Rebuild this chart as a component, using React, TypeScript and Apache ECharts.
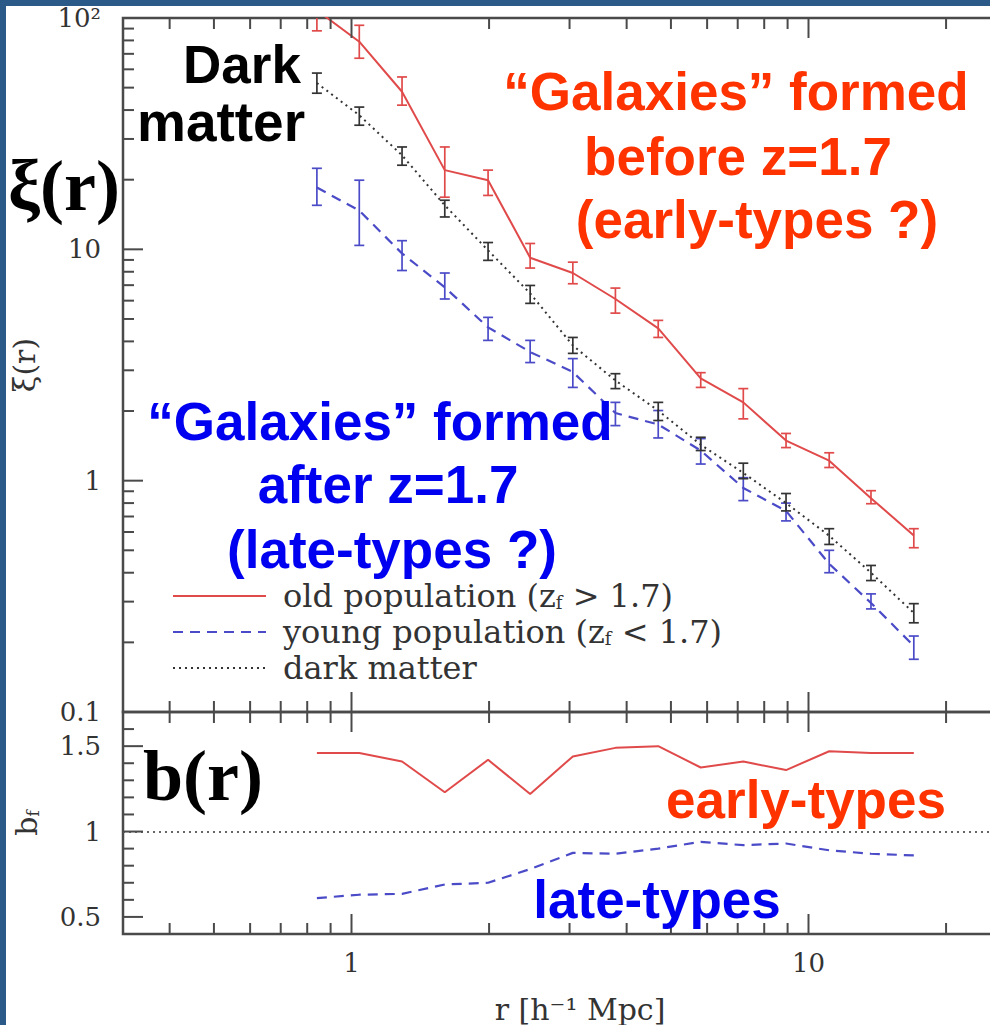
import React, { useEffect, useRef } from "react";
import * as echarts from "echarts";

// Pair separation bins r [h^-1 Mpc]
const R = [0.84, 1.04, 1.29, 1.6, 1.99, 2.46, 3.05, 3.78, 4.69, 5.81, 7.2, 8.93, 11.1, 13.7, 17.0];

// Correlation function xi(r): old population (z_f > 1.7)
const XI_OLD = [108, 79, 48, 22, 19.9, 9.2, 7.9, 6.1, 4.55, 2.77, 2.18, 1.49, 1.22, 0.84, 0.58];
const XI_OLD_LO = [88, 67, 42, 16.8, 17.1, 8.3, 7.1, 5.3, 4.16, 2.53, 1.85, 1.39, 1.14, 0.795, 0.513];
const XI_OLD_HI = [130, 93, 55.6, 27.7, 22, 10.6, 8.8, 6.8, 4.93, 2.93, 2.5, 1.6, 1.32, 0.905, 0.62];

// Young population (z_f < 1.7)
const XI_YOUNG = [18.5, 14.7, 9.6, 6.85, 4.6, 3.6, 2.95, 1.96, 1.75, 1.35, 0.93, 0.74, 0.437, 0.296, 0.193];
const XI_YOUNG_LO = [15.5, 10.4, 8.1, 6.1, 4.04, 3.24, 2.53, 1.73, 1.53, 1.18, 0.82, 0.67, 0.4, 0.279, 0.169];
const XI_YOUNG_HI = [22.4, 19.9, 10.9, 7.9, 5.08, 4.04, 3.37, 2.18, 2.01, 1.52, 1.03, 0.8, 0.5, 0.324, 0.213];

// Dark matter
const XI_DM = [52.3, 38, 25.5, 15.5, 9.9, 6.45, 3.84, 2.71, 2.01, 1.43, 1.08, 0.8, 0.578, 0.4, 0.268];
const XI_DM_LO = [47.3, 34.4, 23.1, 13.8, 8.96, 5.84, 3.55, 2.5, 1.82, 1.35, 1.02, 0.74, 0.53, 0.37, 0.243];
const XI_DM_HI = [57.8, 41.2, 27.7, 16.3, 10.7, 6.98, 4.16, 2.9, 2.18, 1.54, 1.19, 0.88, 0.62, 0.43, 0.294];

// Bias b_f(r)
const B_OLD = [1.46, 1.46, 1.41, 1.23, 1.42, 1.22, 1.44, 1.49, 1.5, 1.375, 1.41, 1.36, 1.47, 1.46, 1.46];
const B_YOUNG = [0.61, 0.63, 0.635, 0.69, 0.7, 0.78, 0.875, 0.87, 0.9, 0.94, 0.92, 0.93, 0.89, 0.87, 0.86];

// Axis ticks
const X_MIN = 0.316227766;
const X_MAX = 31.6227766;
const X_TICKS_MAJOR = [1, 10];
const X_TICKS_MINOR = [0.4, 0.5, 0.6, 0.7, 0.8, 0.9, 2, 3, 4, 5, 6, 7, 8, 9, 20, 30];
const XI_TICKS_MAJOR = [0.1, 1, 10, 100];
const XI_TICKS_MINOR = [0.2, 0.3, 0.4, 0.5, 0.6, 0.7, 0.8, 0.9, 2, 3, 4, 5, 6, 7, 8, 9, 20, 30, 40, 50, 60, 70, 80, 90];
const B_TICKS_MAJOR = [0.5, 1, 1.5];
const B_TICKS_MINOR = [0.6, 0.7, 0.8, 0.9, 1.1, 1.2, 1.3, 1.4, 1.6];

const NAME_OLD = "old population (z_f > 1.7)";
const NAME_YOUNG = "young population (z_f < 1.7)";
const NAME_DM = "dark matter";

const SERIF = "DejaVu Serif";
const SANS = "Liberation Sans";
const FRAME = "#4a4a4a";
const LABEL = "#333";
const RED = "#e04a4a";
const BLUE = "#4b4bc8";
const DARK = "#333";
const ANNOT_RED = "#ff3300";
const ANNOT_BLUE = "#0000f0";

// kind: 0 x-minor, 1 x-major, 2 y-minor, 3 y-major
function tickData(yMinor: number[], yMajor: number[]) {
  return [
    ...X_TICKS_MINOR.map((v) => [v, 1, 0]),
    ...X_TICKS_MAJOR.map((v) => [v, 1, 1]),
    ...yMinor.map((v) => [1, v, 2]),
    ...yMajor.map((v) => [1, v, 3]),
  ];
}

function renderTick(params: any, api: any) {
  const cs = params.coordSys;
  const kind = api.value(2);
  const p = api.coord([api.value(0), api.value(1)]);
  const len = kind === 1 || kind === 3 ? 20 : 11;
  const style = { stroke: FRAME, lineWidth: 2 };
  if (kind < 2) {
    const bottom = cs.y + cs.height;
    return {
      type: "group",
      children: [
        { type: "line", shape: { x1: p[0], y1: bottom, x2: p[0], y2: bottom - len }, style },
        { type: "line", shape: { x1: p[0], y1: cs.y, x2: p[0], y2: cs.y + len }, style },
      ],
    };
  }
  return {
    type: "line",
    shape: { x1: cs.x, y1: p[1], x2: cs.x + len, y2: p[1] },
    style,
  };
}

function errorBars(lo: number[], hi: number[], color: string) {
  return {
    type: "custom",
    xAxisIndex: 0,
    yAxisIndex: 0,
    clip: true,
    silent: true,
    z: 3,
    encode: { x: 0, y: [1, 2] },
    data: R.map((r, i) => [r, lo[i], hi[i]]),
    renderItem: (params: any, api: any) => {
      const x = api.value(0);
      const a = api.coord([x, api.value(1)]);
      const b = api.coord([x, api.value(2)]);
      const cap = 5;
      const style = { stroke: color, lineWidth: 1.7 };
      return {
        type: "group",
        children: [
          { type: "line", shape: { x1: a[0], y1: a[1], x2: b[0], y2: b[1] }, style },
          { type: "line", shape: { x1: a[0] - cap, y1: a[1], x2: a[0] + cap, y2: a[1] }, style },
          { type: "line", shape: { x1: b[0] - cap, y1: b[1], x2: b[0] + cap, y2: b[1] }, style },
        ],
      };
    },
  };
}

function legendLabel(name: string) {
  const parts = name.split("_f");
  if (parts.length === 1) return `{g| }{t|${name}}`;
  return `{g| }{t|${parts[0]}}{s|f}{t|${parts[1]}}`;
}

function annot(text: string, x: number, y: number, color: string, align = "center", font = `bold 53px "${SANS}"`) {
  return {
    type: "text",
    x,
    y,
    z: 50,
    silent: true,
    style: {
      text,
      fill: color,
      font,
      textAlign: align,
      textVerticalAlign: "middle",
      verticalAlign: "middle",
    },
  };
}

const labelFont = { fontFamily: SERIF, fontSize: 26, color: LABEL };

const option: any = {
  animation: false,
  backgroundColor: "#ffffff",
  grid: [
    { left: 123, top: 18, width: 914, height: 694, show: true, borderColor: FRAME, borderWidth: 2.5, backgroundColor: "transparent" },
    { left: 123, top: 712, width: 914, height: 226, show: true, borderColor: FRAME, borderWidth: 2.5, backgroundColor: "transparent" },
  ],
  xAxis: [
    {
      type: "log",
      gridIndex: 0,
      min: X_MIN,
      max: X_MAX,
      axisLine: { show: false },
      axisTick: { show: false },
      axisLabel: { show: false },
      splitLine: { show: false },
    },
    {
      type: "log",
      gridIndex: 1,
      min: X_MIN,
      max: X_MAX,
      axisLine: { show: false },
      axisTick: { show: false },
      splitLine: { show: false },
      axisLabel: {
        ...labelFont,
        margin: 16,
        showMinLabel: false,
        showMaxLabel: false,
        formatter: (v: number) => (Math.abs(v - 1) < 1e-6 ? "1" : Math.abs(v - 10) < 1e-6 ? "10" : ""),
      },
      name: "r [h⁻¹ Mpc]",
      nameLocation: "middle",
      nameGap: 60,
      nameTextStyle: { fontFamily: SERIF, fontSize: 30, color: LABEL },
    },
  ],
  yAxis: [
    {
      type: "log",
      gridIndex: 0,
      min: 0.1,
      max: 100,
      axisLine: { show: false },
      axisTick: { show: false },
      splitLine: { show: false },
      axisLabel: {
        ...labelFont,
        margin: 22,
        formatter: (v: number) => (v > 50 ? "10²" : v > 5 ? "10" : v > 0.5 ? "1" : "0.1"),
      },
      name: "ξ(r)",
      nameLocation: "middle",
      nameRotate: 90,
      nameGap: 84,
      nameTextStyle: { fontFamily: SERIF, fontSize: 30, color: LABEL },
    },
    {
      type: "value",
      gridIndex: 1,
      min: 0.4,
      max: 1.7,
      interval: 0.1,
      axisLine: { show: false },
      axisTick: { show: false },
      splitLine: { show: false },
      axisLabel: {
        ...labelFont,
        margin: 22,
        formatter: (v: number) => {
          const k = Math.round(v * 10);
          return k === 5 ? "0.5" : k === 10 ? "1" : k === 15 ? "1.5" : "";
        },
      },
      name: "{b|b}{s|f}",
      nameLocation: "middle",
      nameRotate: 90,
      nameGap: 82,
      nameTextStyle: {
        rich: {
          b: { fontFamily: SERIF, fontSize: 30, color: LABEL },
          s: { fontFamily: SERIF, fontSize: 17, color: LABEL, verticalAlign: "bottom" },
        },
      },
    },
  ],
  legend: {
    orient: "vertical",
    left: 167,
    top: 575,
    itemWidth: 93,
    itemHeight: 14,
    itemGap: 4,
    selectedMode: false,
    itemStyle: { opacity: 0 },
    data: [NAME_OLD, NAME_YOUNG, NAME_DM],
    formatter: legendLabel,
    textStyle: {
      lineHeight: 30,
      rich: {
        g: { width: 12 },
        t: { fontFamily: SERIF, fontSize: 32, color: LABEL, lineHeight: 30 },
        s: { fontFamily: SERIF, fontSize: 18, color: LABEL, verticalAlign: "bottom", lineHeight: 30 },
      },
    },
  },
  series: [
    // tick marks on both panels
    {
      type: "custom",
      xAxisIndex: 0,
      yAxisIndex: 0,
      silent: true,
      z: 10,
      data: tickData(XI_TICKS_MINOR, XI_TICKS_MAJOR),
      renderItem: renderTick,
    },
    {
      type: "custom",
      xAxisIndex: 1,
      yAxisIndex: 1,
      silent: true,
      z: 10,
      data: tickData(B_TICKS_MINOR, B_TICKS_MAJOR),
      renderItem: renderTick,
    },
    // xi(r)
    {
      name: NAME_OLD,
      type: "line",
      xAxisIndex: 0,
      yAxisIndex: 0,
      symbol: "none",
      lineStyle: { color: RED, width: 2 },
      itemStyle: { color: RED },
      data: R.map((r, i) => [r, XI_OLD[i]]),
    },
    {
      name: NAME_YOUNG,
      type: "line",
      xAxisIndex: 0,
      yAxisIndex: 0,
      symbol: "none",
      lineStyle: { color: BLUE, width: 2.2, type: [10, 7] },
      itemStyle: { color: BLUE },
      data: R.map((r, i) => [r, XI_YOUNG[i]]),
    },
    {
      name: NAME_DM,
      type: "line",
      xAxisIndex: 0,
      yAxisIndex: 0,
      symbol: "none",
      lineStyle: { color: DARK, width: 2, type: [2, 4] },
      itemStyle: { color: DARK },
      data: R.map((r, i) => [r, XI_DM[i]]),
    },
    errorBars(XI_OLD_LO, XI_OLD_HI, RED),
    errorBars(XI_YOUNG_LO, XI_YOUNG_HI, BLUE),
    errorBars(XI_DM_LO, XI_DM_HI, DARK),
    // b_f(r)
    {
      name: "bias old",
      type: "line",
      xAxisIndex: 1,
      yAxisIndex: 1,
      symbol: "none",
      lineStyle: { color: RED, width: 2 },
      data: R.map((r, i) => [r, B_OLD[i]]),
      markLine: {
        silent: true,
        symbol: ["none", "none"],
        label: { show: false },
        lineStyle: { color: "#666", width: 2, type: [2, 4] },
        data: [{ yAxis: 1 }],
      },
    },
    {
      name: "bias young",
      type: "line",
      xAxisIndex: 1,
      yAxisIndex: 1,
      symbol: "none",
      lineStyle: { color: BLUE, width: 2.2, type: [10, 7] },
      data: R.map((r, i) => [r, B_YOUNG[i]]),
    },
  ],
  graphic: [
    // slide frame
    { type: "rect", z: 100, shape: { x: 0, y: 0, width: 6, height: 1025 }, style: { fill: "#2c5a88" } },
    { type: "rect", z: 100, shape: { x: 0, y: 0, width: 1100, height: 6 }, style: { fill: "#2c5a88" } },
    annot("ξ(r)", 64, 186, "#000", "center", `bold 72px "Liberation Serif"`),
    annot("b(r)", 203, 776, "#000", "center", `bold 72px "Liberation Serif"`),
    annot("Dark", 183, 64.5, "#000", "left"),
    annot("matter", 137, 121.5, "#000", "left", `bold 55px "${SANS}"`),
    annot("“Galaxies” formed", 736, 91.5, ANNOT_RED),
    annot("before z=1.7", 738, 156.5, ANNOT_RED),
    annot("(early-types ?)", 757, 219.5, ANNOT_RED),
    annot("“Galaxies” formed", 380, 421.5, ANNOT_BLUE),
    annot("after z=1.7", 388, 484.5, ANNOT_BLUE),
    annot("(late-types ?)", 392, 549.5, ANNOT_BLUE),
    annot("early-types", 806, 799.5, ANNOT_RED),
    annot("late-types", 657, 899.5, ANNOT_BLUE),
  ],
};

export default function App() {
  const ref = useRef<HTMLDivElement>(null);
  useEffect(() => {
    const chart = echarts.init(ref.current!, null, { renderer: "svg" });
    chart.setOption(option);
    return () => chart.dispose();
  }, []);
  return (
    <div
      style={{
        position: "fixed",
        left: 0,
        top: 0,
        width: 990,
        height: 1025,
        overflow: "hidden",
        background: "#ffffff",
      }}
    >
      <div ref={ref} style={{ width: 1100, height: 1025 }} />
    </div>
  );
}
